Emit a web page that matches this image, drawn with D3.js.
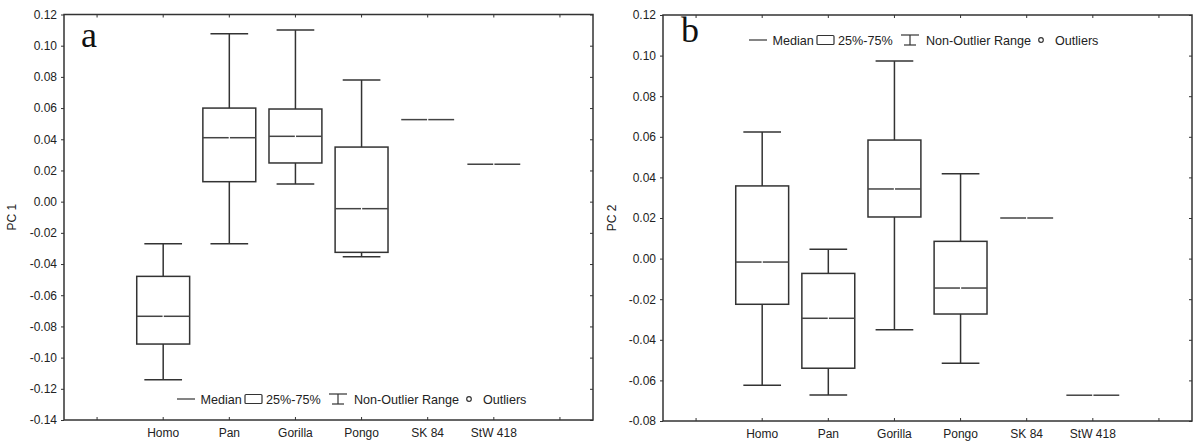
<!DOCTYPE html>
<html>
<head>
<meta charset="utf-8">
<script src="https://cdn.jsdelivr.net/npm/d3@7"></script>
<style>
  body { margin: 0; background: #fff; }
  svg { display: block; font-family: "Liberation Sans", Arial, sans-serif; }
  .tick text { font-size: 12px; fill: #222; }
</style>
</head>
<body>
<div id="chart"></div>
<script>
// groups on the x axis (first and last slot stay empty)
const groups = ["Homo", "Pan", "Gorilla", "Pongo", "SK 84", "StW 418"];

// panel a: PC 1
const pc1Min = [-0.1142, -0.027, 0.0113, -0.0353, 0.0526, 0.024];
const pc1Q1  = [-0.0913, 0.0128, 0.0248, -0.0325, 0.0526, 0.024];
const pc1Med = [-0.0735, 0.041, 0.0419, -0.0045, 0.0526, 0.024];
const pc1Q3  = [-0.0479, 0.060, 0.0594, 0.035, 0.0526, 0.024];
const pc1Max = [-0.027, 0.1077, 0.110, 0.078, 0.0526, 0.024];
const pc1Ticks = [-0.14, -0.12, -0.10, -0.08, -0.06, -0.04, -0.02, 0.00, 0.02, 0.04, 0.06, 0.08, 0.10, 0.12];

// panel b: PC 2
const pc2Min = [-0.0624, -0.0672, -0.035, -0.0515, 0.020, -0.0673];
const pc2Q1  = [-0.0225, -0.054, 0.0205, -0.0273, 0.020, -0.0673];
const pc2Med = [-0.0017, -0.0294, 0.0343, -0.0145, 0.020, -0.0673];
const pc2Q3  = [0.0358, -0.0073, 0.0584, 0.0085, 0.020, -0.0673];
const pc2Max = [0.0624, 0.0046, 0.0973, 0.0418, 0.020, -0.0673];
const pc2Ticks = [-0.08, -0.06, -0.04, -0.02, 0.00, 0.02, 0.04, 0.06, 0.08, 0.10, 0.12];

const legendItems = ["Median", "25%-75%", "Non-Outlier Range", "Outliers"];

const W = 1194, H = 442;
const ink = "#333";

const svg = d3.select("#chart").append("svg")
  .attr("width", W)
  .attr("height", H);

function panel(o) {
  const slots = ["s0"].concat(groups, ["s7"]);
  const x = d3.scaleBand().domain(slots).range([o.left, o.right]).padding(0);
  const y = d3.scaleLinear().domain([o.ticks[0], o.ticks[o.ticks.length - 1]]).range([o.bottom, o.top]);
  const bw = x.bandwidth();
  const fmt = v => v.toFixed(2);

  const g = svg.append("g");

  // y axis (left, outward ticks, labelled)
  g.append("g")
    .attr("transform", "translate(" + o.left + ",0)")
    .call(d3.axisLeft(y).tickValues(o.ticks).tickFormat(fmt).tickSize(3).tickSizeOuter(0).tickPadding(4))
    .call(a => a.select(".domain").remove())
    .call(a => a.selectAll("line").attr("stroke", ink));
  // right side ticks, inward
  g.append("g")
    .attr("transform", "translate(" + o.right + ",0)")
    .call(d3.axisRight(y).tickValues(o.ticks).tickFormat("").tickSize(-3).tickSizeOuter(0))
    .call(a => a.select(".domain").remove())
    .call(a => a.selectAll("line").attr("stroke", ink));
  // bottom ticks and labels
  g.append("g")
    .attr("transform", "translate(0," + o.bottom + ")")
    .call(d3.axisBottom(x).tickFormat(d => groups.includes(d) ? d : "").tickSize(-3).tickSizeOuter(0).tickPadding(8))
    .call(a => a.select(".domain").remove())
    .call(a => a.selectAll("line").attr("stroke", ink));
  // top ticks
  g.append("g")
    .attr("transform", "translate(0," + o.top + ")")
    .call(d3.axisTop(x).tickFormat("").tickSize(-3).tickSizeOuter(0))
    .call(a => a.select(".domain").remove())
    .call(a => a.selectAll("line").attr("stroke", ink));

  // frame
  g.append("rect")
    .attr("x", o.left).attr("y", o.top)
    .attr("width", o.right - o.left).attr("height", o.bottom - o.top)
    .attr("fill", "none").attr("stroke", ink).attr("stroke-width", 1.5);

  // axis title
  g.append("text")
    .attr("transform", "translate(" + o.titleX + "," + ((o.top + o.bottom) / 2) + ") rotate(-90)")
    .attr("text-anchor", "middle")
    .attr("font-size", 12)
    .attr("fill", "#222")
    .text(o.title);

  // panel letter
  g.append("text")
    .attr("x", o.letterX).attr("y", o.letterY)
    .attr("font-family", "'Liberation Serif', 'Times New Roman', serif")
    .attr("font-size", 36)
    .attr("fill", "#111")
    .text(o.letter);

  // boxes
  const rows = groups.map((k, i) => ({
    k: k, lo: o.min[i], q1: o.q1[i], med: o.med[i], q3: o.q3[i], hi: o.max[i]
  }));
  const boxW = bw * 0.8, capW = bw * 0.57;
  const bx = g.append("g").attr("stroke", ink).attr("stroke-width", 1.5).attr("fill", "none");

  rows.forEach(d => {
    const cx = x(d.k) + bw / 2;
    if (d.q3 > d.q1) {
      bx.append("line").attr("x1", cx).attr("x2", cx).attr("y1", y(d.hi)).attr("y2", y(d.q3));
      bx.append("line").attr("x1", cx).attr("x2", cx).attr("y1", y(d.q1)).attr("y2", y(d.lo));
      bx.append("line").attr("x1", cx - capW / 2).attr("x2", cx + capW / 2).attr("y1", y(d.hi)).attr("y2", y(d.hi));
      bx.append("line").attr("x1", cx - capW / 2).attr("x2", cx + capW / 2).attr("y1", y(d.lo)).attr("y2", y(d.lo));
      bx.append("rect")
        .attr("x", cx - boxW / 2).attr("y", y(d.q3))
        .attr("width", boxW).attr("height", y(d.q1) - y(d.q3));
    }
    // median, with the small centre gap
    bx.append("line").attr("stroke", "#444")
      .attr("x1", cx - boxW / 2).attr("x2", cx - 0.6).attr("y1", y(d.med)).attr("y2", y(d.med));
    bx.append("line").attr("stroke", "#444")
      .attr("x1", cx + 0.6).attr("x2", cx + boxW / 2).attr("y1", y(d.med)).attr("y2", y(d.med));
  });

  // legend
  const lg = g.append("g").attr("transform", "translate(" + o.legX + "," + o.legY + ")");
  const ls = lg.append("g").attr("stroke", ink).attr("stroke-width", 1.2).attr("fill", "none");
  ls.append("line").attr("x1", 0).attr("x2", 18).attr("y1", 0).attr("y2", 0);
  ls.append("rect").attr("x", 68).attr("y", -4.5).attr("width", 17).attr("height", 9).attr("rx", 1);
  ls.append("line").attr("x1", 152).attr("x2", 170).attr("y1", -5).attr("y2", -5);
  ls.append("line").attr("x1", 155).attr("x2", 167).attr("y1", 5).attr("y2", 5);
  ls.append("line").attr("x1", 161).attr("x2", 161).attr("y1", -5).attr("y2", 5);
  ls.append("circle").attr("cx", 292).attr("cy", 0).attr("r", 2.3);
  const lx = [23.5, 89, 177, 306];
  lg.selectAll("text").data(legendItems).enter().append("text")
    .attr("x", (d, i) => lx[i])
    .attr("y", 4.5)
    .attr("font-size", 12.6)
    .attr("fill", "#222")
    .text(d => d);
}

panel({
  left: 64, right: 593, top: 14.5, bottom: 420,
  ticks: pc1Ticks, min: pc1Min, q1: pc1Q1, med: pc1Med, q3: pc1Q3, max: pc1Max,
  title: "PC 1", titleX: 16, letter: "a", letterX: 81, letterY: 47,
  legX: 177, legY: 399
});

panel({
  left: 663, right: 1192, top: 15, bottom: 421,
  ticks: pc2Ticks, min: pc2Min, q1: pc2Q1, med: pc2Med, q3: pc2Q3, max: pc2Max,
  title: "PC 2", titleX: 616, letter: "b", letterX: 681, letterY: 42,
  legX: 749, legY: 40
});
</script>
</body>
</html>
